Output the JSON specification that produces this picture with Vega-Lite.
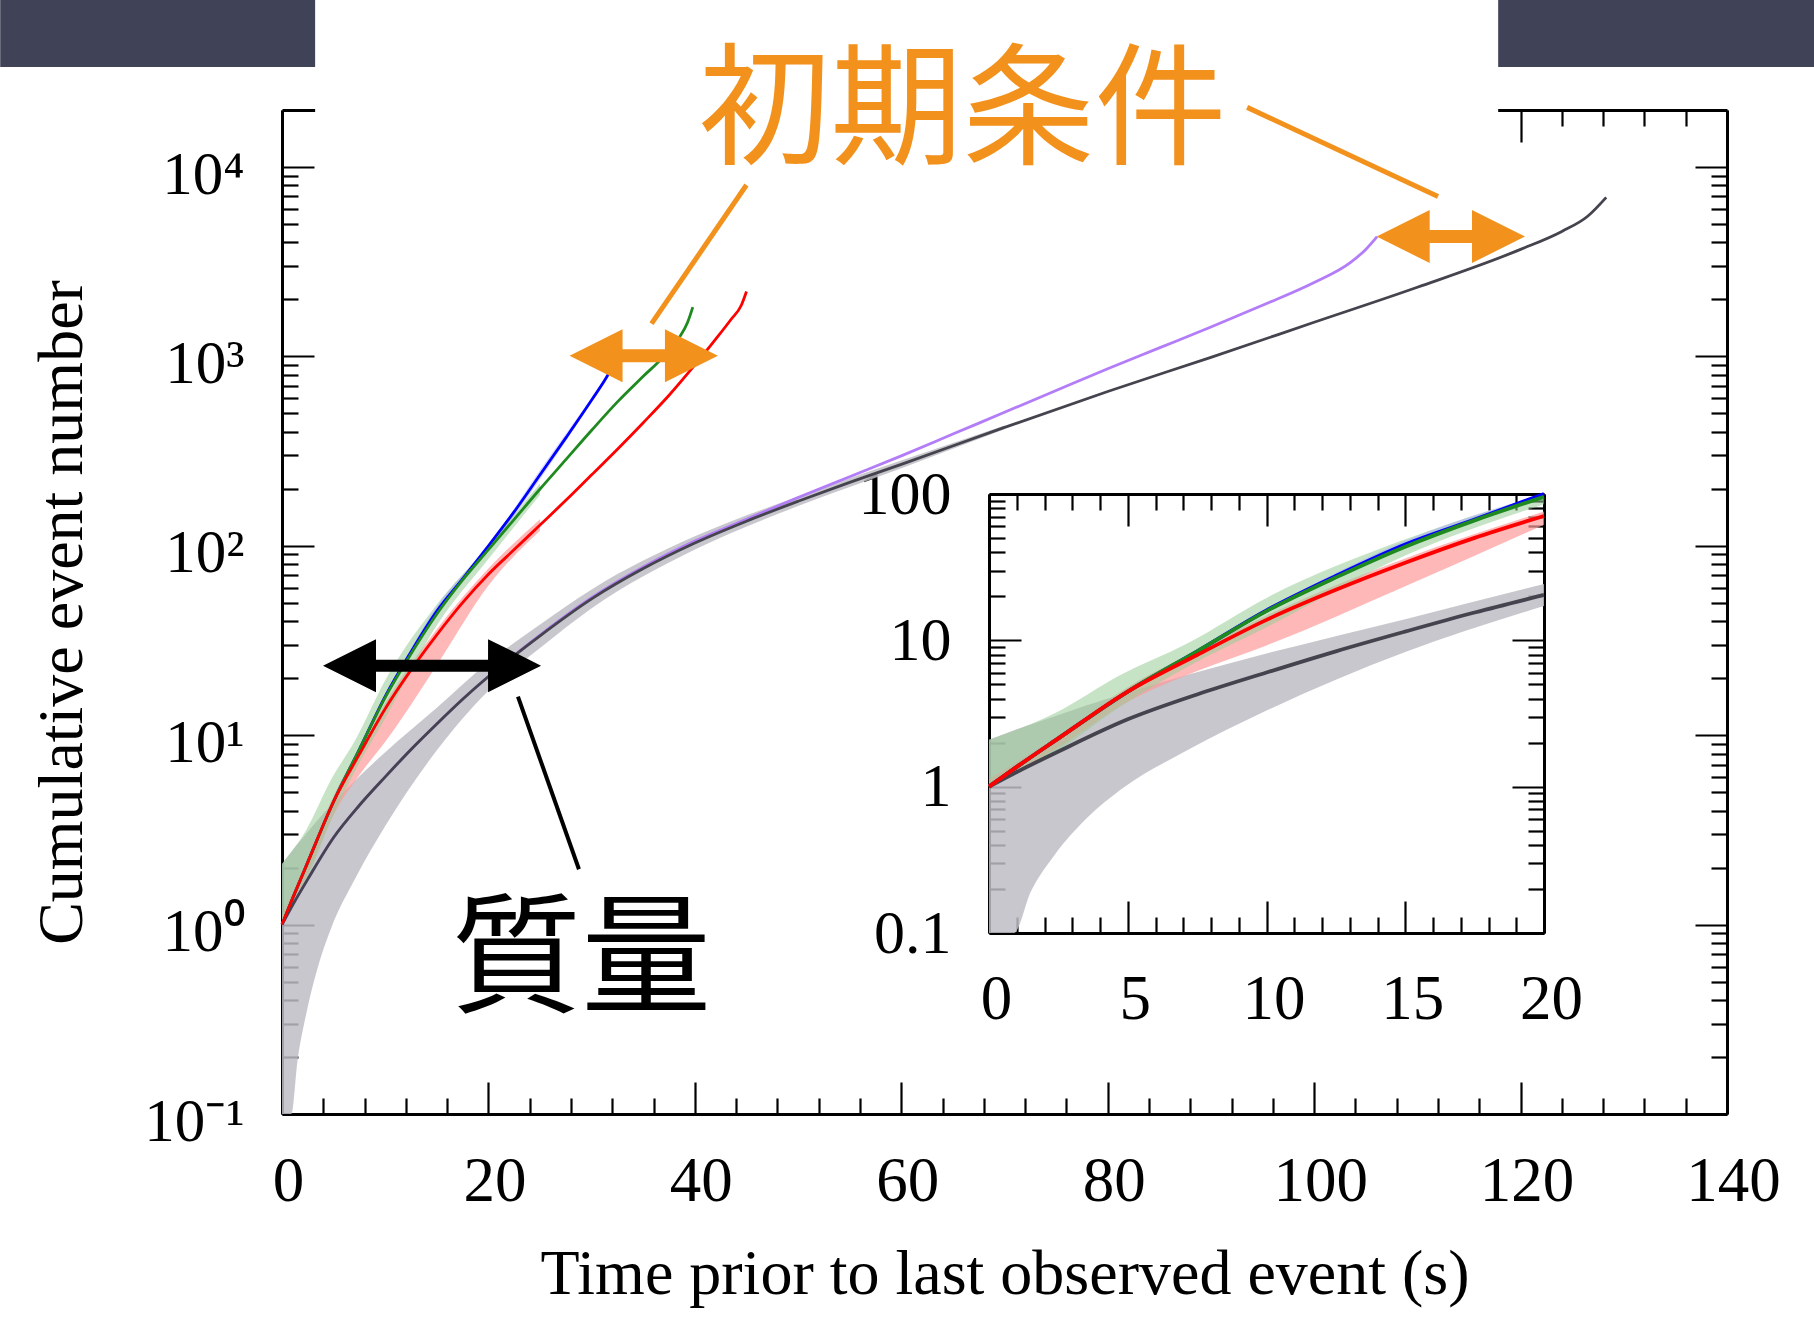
{
  "$schema": "https://vega.github.io/schema/vega-lite/v6.json",
  "width": 1445,
  "height": 1004,
  "autosize": "none",
  "padding": {"left": 282, "top": 110, "right": 87, "bottom": 218},
  "background": "white",
  "config": {
    "view": {"stroke": null},
    "axis": {
      "grid": false,
      "domainColor": "#000000",
      "domainWidth": 3,
      "tickColor": "#000000",
      "tickWidth": 2.2,
      "labelFont": "Liberation Serif",
      "labelColor": "#000000",
      "titleFont": "Liberation Serif",
      "titleColor": "#000000",
      "titleFontWeight": "normal",
      "labelFlush": false,
      "labelOverlap": false,
      "labelBound": false
    }
  },
  "datasets": {
    "lines": [
      {"series":"purple","t":0,"v":1},{"series":"purple","t":1,"v":1.259},{"series":"purple","t":2.5,"v":1.738},{"series":"purple","t":5,"v":2.884},{"series":"purple","t":7.5,"v":4.266},{"series":"purple","t":10,"v":6.026},{"series":"purple","t":12.5,"v":8.414},{"series":"purple","t":15,"v":11.48},{"series":"purple","t":17.5,"v":15.49},{"series":"purple","t":20,"v":20.42},{"series":"purple","t":25,"v":33.8},{"series":"purple","t":30,"v":53.2},{"series":"purple","t":35,"v":77.3},{"series":"purple","t":40,"v":105.9},{"series":"purple","t":45,"v":138},{"series":"purple","t":50,"v":179.9},{"series":"purple","t":55,"v":231.7},{"series":"purple","t":60,"v":298.5},{"series":"purple","t":65,"v":389},{"series":"purple","t":70,"v":507},{"series":"purple","t":75,"v":660.7},{"series":"purple","t":80,"v":861},{"series":"purple","t":85,"v":1109},{"series":"purple","t":90,"v":1429},{"series":"purple","t":95,"v":1862},{"series":"purple","t":100,"v":2455},{"series":"purple","t":103.5,"v":3126},{"series":"purple","t":105,"v":3673},{"series":"purple","t":106.1,"v":4295},
      {"series":"gray","t":0,"v":1},{"series":"gray","t":1,"v":1.259},{"series":"gray","t":2.5,"v":1.738},{"series":"gray","t":5,"v":2.884},{"series":"gray","t":7.5,"v":4.266},{"series":"gray","t":10,"v":6.026},{"series":"gray","t":12.5,"v":8.414},{"series":"gray","t":15,"v":11.48},{"series":"gray","t":17.5,"v":15.49},{"series":"gray","t":20,"v":20.42},{"series":"gray","t":25,"v":33.5},{"series":"gray","t":30,"v":52.48},{"series":"gray","t":35,"v":75.86},{"series":"gray","t":40,"v":103.5},{"series":"gray","t":45,"v":134.9},{"series":"gray","t":50,"v":171.8},{"series":"gray","t":55,"v":216.3},{"series":"gray","t":60,"v":269.2},{"series":"gray","t":70,"v":421.7},{"series":"gray","t":80,"v":653.1},{"series":"gray","t":90,"v":988.6},{"series":"gray","t":100,"v":1514},{"series":"gray","t":110,"v":2317},{"series":"gray","t":120,"v":3673},{"series":"gray","t":124,"v":4571},{"series":"gray","t":126.5,"v":5495},{"series":"gray","t":128.3,"v":6918},
      {"series":"blue","t":0,"v":1},{"series":"blue","t":1,"v":1.365},{"series":"blue","t":2.5,"v":2.138},{"series":"blue","t":5,"v":4.467},{"series":"blue","t":7.5,"v":8.414},{"series":"blue","t":10,"v":16.03},{"series":"blue","t":12.5,"v":27.54},{"series":"blue","t":15,"v":45.19},{"series":"blue","t":17.5,"v":66.83},{"series":"blue","t":20,"v":100},{"series":"blue","t":22.5,"v":151.4},{"series":"blue","t":25,"v":237.1},{"series":"blue","t":27.5,"v":371.5},{"series":"blue","t":30,"v":588.8},{"series":"blue","t":31.5,"v":785.2},{"series":"blue","t":32.3,"v":944.1},{"series":"blue","t":32.8,"v":1096},
      {"series":"green","t":0,"v":1},{"series":"green","t":1,"v":1.365},{"series":"green","t":2.5,"v":2.138},{"series":"green","t":5,"v":4.467},{"series":"green","t":7.5,"v":8.414},{"series":"green","t":10,"v":15.85},{"series":"green","t":12.5,"v":26.92},{"series":"green","t":15,"v":43.65},{"series":"green","t":17.5,"v":66.07},{"series":"green","t":20,"v":95.5},{"series":"green","t":22.5,"v":138},{"series":"green","t":25,"v":199.5},{"series":"green","t":27.5,"v":285.1},{"series":"green","t":30,"v":407.4},{"series":"green","t":32.5,"v":575.4},{"series":"green","t":35,"v":785.2},{"series":"green","t":37,"v":1000},{"series":"green","t":38.5,"v":1259},{"series":"green","t":39.3,"v":1514},{"series":"green","t":39.8,"v":1820},
      {"series":"red","t":0,"v":1},{"series":"red","t":1,"v":1.365},{"series":"red","t":2.5,"v":2.138},{"series":"red","t":5,"v":4.467},{"series":"red","t":7.5,"v":7.943},{"series":"red","t":10,"v":13.8},{"series":"red","t":12.5,"v":22.13},{"series":"red","t":15,"v":33.88},{"series":"red","t":17.5,"v":50.12},{"series":"red","t":20,"v":70.79},{"series":"red","t":22.5,"v":95.5},{"series":"red","t":25,"v":128.8},{"series":"red","t":27.5,"v":173.8},{"series":"red","t":30,"v":237.1},{"series":"red","t":32.5,"v":323.6},{"series":"red","t":35,"v":446.7},{"series":"red","t":37.5,"v":623.7},{"series":"red","t":40,"v":901.6},{"series":"red","t":42,"v":1230},{"series":"red","t":43.5,"v":1567},{"series":"red","t":44.5,"v":1862},{"series":"red","t":45,"v":2203}
    ],
    "bands": [
      {"series":"gray","t":0,"lo":0.1,"hi":2.089},{"series":"gray","t":0.9,"lo":0.1,"hi":2.427},{"series":"gray","t":1.5,"lo":0.1905,"hi":2.661},{"series":"gray","t":2.35,"lo":0.3388,"hi":3.02},{"series":"gray","t":3.5,"lo":0.6026,"hi":3.589},{"series":"gray","t":4.75,"lo":0.955,"hi":4.266},{"series":"gray","t":7.16,"lo":1.778,"hi":5.821},{"series":"gray","t":10,"lo":3.311,"hi":8.128},{"series":"gray","t":15,"lo":8.318,"hi":13.96},{"series":"gray","t":20,"lo":17.18,"hi":24.27},{"series":"gray","t":25,"lo":28.84,"hi":38.46},{"series":"gray","t":30,"lo":46.77,"hi":58.88},{"series":"gray","t":40,"lo":95.5,"hi":112.2},{"series":"gray","t":50,"lo":162.2,"hi":182},{"series":"gray","t":60,"lo":257,"hi":281.8},{"series":"gray","t":70,"lo":412.1,"hi":431.5},
      {"series":"red","t":0,"lo":1,"hi":1.122},{"series":"red","t":2.5,"lo":1.862,"hi":2.239},{"series":"red","t":5,"lo":3.802,"hi":4.786},{"series":"red","t":7.5,"lo":6.166,"hi":8.511},{"series":"red","t":10,"lo":9.226,"hi":14.79},{"series":"red","t":15,"lo":23.44,"hi":36.31},{"series":"red","t":20,"lo":61.66,"hi":75.86},{"series":"red","t":25,"lo":120.2,"hi":138},
      {"series":"green","t":0,"lo":1,"hi":2.089},{"series":"green","t":2.35,"lo":1.698,"hi":3.162},{"series":"green","t":4.75,"lo":3.548,"hi":5.821},{"series":"green","t":7.16,"lo":6.607,"hi":9.55},{"series":"green","t":10,"lo":12.3,"hi":19.5},{"series":"green","t":15,"lo":38.02,"hi":48.98},{"series":"green","t":20,"lo":85.11,"hi":100},{"series":"green","t":25,"lo":186.2,"hi":213.8},
      {"series":"blue","t":10,"lo":15.49,"hi":16.6},{"series":"blue","t":12.5,"lo":26.3,"hi":28.84},{"series":"blue","t":15,"lo":42.66,"hi":47.86},{"series":"blue","t":20,"lo":94.41,"hi":100},{"series":"blue","t":25,"lo":223.9,"hi":251.2},{"series":"blue","t":30,"lo":575.4,"hi":602.6}
    ],
    "boxes": [
      {"kind":"white","t1":3.21,"t2":117.83,"v1":12300,"v2":100000},
      {"kind":"bar","t1":-27.3,"t2":3.21,"v1":33780,"v2":100000},
      {"kind":"bar","t1":117.83,"t2":150,"v1":33780,"v2":100000}
    ],
    "shafts": [
      {"kind":"mass","t1":6.54,"t2":22.53,"v":23.3},
      {"kind":"init","t1":30.43,"t2":39.67,"v":1008},
      {"kind":"init","t1":108.63,"t2":117.86,"v":4295}
    ],
    "heads": [
      {"kind":"mass","dir":"L","t":6.54,"v":23.3},{"kind":"mass","dir":"R","t":22.53,"v":23.3},
      {"kind":"init","dir":"L","t":30.43,"v":1008},{"kind":"init","dir":"R","t":39.67,"v":1008},
      {"kind":"init","dir":"L","t":108.63,"v":4295},{"kind":"init","dir":"R","t":117.86,"v":4295}
    ],
    "leaders": [
      {"kind":"mass","t1":22.86,"v1":16.0,"t2":28.77,"v2":1.96},
      {"kind":"init","t1":35.8,"v1":1489,"t2":45.0,"v2":8035},
      {"kind":"init","t1":112.0,"v1":6980,"t2":93.51,"v2":20650}
    ],
    "notes": [
      {"kind":"init","text":"初期条件","t":65.93,"v":11740},
      {"kind":"mass","text":"質量","t":29.0,"v":0.389}
    ],
    "frame": [{"t":0,"v":1}]
  },
  "layer": [
    {
      "layer": [
        {
          "data": {"name": "boxes"},
          "transform": [{"filter": "datum.kind === 'white'"}],
          "mark": {"type": "rect", "color": "#ffffff"},
          "encoding": {
            "x": {"field": "t1", "type": "quantitative", "scale": {"domain": [0, 140], "nice": false, "zero": false}, "axis": null},
            "x2": {"field": "t2"},
            "y": {"field": "v1", "type": "quantitative", "scale": {"type": "log", "domain": [0.1, 20000], "nice": false}, "axis": null},
            "y2": {"field": "v2"}
          }
        },
        {
          "data": {"name": "boxes"},
          "transform": [{"filter": "datum.kind === 'bar'"}],
          "mark": {"type": "rect", "color": "#404257"},
          "encoding": {
            "x": {"field": "t1", "type": "quantitative", "scale": {"domain": [0, 140], "nice": false, "zero": false}, "axis": null},
            "x2": {"field": "t2"},
            "y": {"field": "v1", "type": "quantitative", "scale": {"type": "log", "domain": [0.1, 20000], "nice": false}, "axis": null},
            "y2": {"field": "v2"}
          }
        },
        {
          "data": {"name": "bands"},
          "transform": [{"filter": "datum.series === 'gray'"}],
          "mark": {"type": "area", "color": "#bdbdc4", "opacity": 0.85, "interpolate": "monotone"},
          "encoding": {
            "x": {"field": "t", "type": "quantitative", "scale": {"domain": [0, 140], "nice": false, "zero": false}, "axis": null},
            "y": {"field": "lo", "type": "quantitative", "scale": {"type": "log", "domain": [0.1, 20000], "nice": false}, "axis": null},
            "y2": {"field": "hi"}
          }
        },
        {
          "data": {"name": "bands"},
          "transform": [{"filter": "datum.series === 'red'"}],
          "mark": {"type": "area", "color": "#ff9a9a", "opacity": 0.7, "interpolate": "monotone"},
          "encoding": {
            "x": {"field": "t", "type": "quantitative", "scale": {"domain": [0, 140], "nice": false, "zero": false}, "axis": null},
            "y": {"field": "lo", "type": "quantitative", "scale": {"type": "log", "domain": [0.1, 20000], "nice": false}, "axis": null},
            "y2": {"field": "hi"}
          }
        },
        {
          "data": {"name": "bands"},
          "transform": [{"filter": "datum.series === 'green'"}],
          "mark": {"type": "area", "color": "#98cc98", "opacity": 0.55, "interpolate": "monotone"},
          "encoding": {
            "x": {"field": "t", "type": "quantitative", "scale": {"domain": [0, 140], "nice": false, "zero": false}, "axis": null},
            "y": {"field": "lo", "type": "quantitative", "scale": {"type": "log", "domain": [0.1, 20000], "nice": false}, "axis": null},
            "y2": {"field": "hi"}
          }
        },
        {
          "data": {"name": "bands"},
          "transform": [{"filter": "datum.series === 'blue'"}],
          "mark": {"type": "area", "color": "#9b9bff", "opacity": 0.4, "interpolate": "monotone"},
          "encoding": {
            "x": {"field": "t", "type": "quantitative", "scale": {"domain": [0, 140], "nice": false, "zero": false}, "axis": null},
            "y": {"field": "lo", "type": "quantitative", "scale": {"type": "log", "domain": [0.1, 20000], "nice": false}, "axis": null},
            "y2": {"field": "hi"}
          }
        },
        {
          "data": {"name": "lines"},
          "transform": [{"filter": "datum.series === 'purple'"}],
          "mark": {"type": "line", "color": "#b37cf8", "strokeWidth": 2.8, "interpolate": "monotone"},
          "encoding": {
            "x": {"field": "t", "type": "quantitative", "scale": {"domain": [0, 140], "nice": false, "zero": false}, "axis": null},
            "y": {"field": "v", "type": "quantitative", "scale": {"type": "log", "domain": [0.1, 20000], "nice": false}, "axis": null}
          }
        },
        {
          "data": {"name": "lines"},
          "transform": [{"filter": "datum.series === 'gray'"}],
          "mark": {"type": "line", "color": "#45434e", "strokeWidth": 2.8, "interpolate": "monotone"},
          "encoding": {
            "x": {"field": "t", "type": "quantitative", "scale": {"domain": [0, 140], "nice": false, "zero": false}, "axis": null},
            "y": {"field": "v", "type": "quantitative", "scale": {"type": "log", "domain": [0.1, 20000], "nice": false}, "axis": null}
          }
        },
        {
          "data": {"name": "lines"},
          "transform": [{"filter": "datum.series === 'blue'"}],
          "mark": {"type": "line", "color": "#0000ff", "strokeWidth": 2.8, "interpolate": "monotone"},
          "encoding": {
            "x": {"field": "t", "type": "quantitative", "scale": {"domain": [0, 140], "nice": false, "zero": false}, "axis": null},
            "y": {"field": "v", "type": "quantitative", "scale": {"type": "log", "domain": [0.1, 20000], "nice": false}, "axis": null}
          }
        },
        {
          "data": {"name": "lines"},
          "transform": [{"filter": "datum.series === 'green'"}],
          "mark": {"type": "line", "color": "#1f8a1f", "strokeWidth": 2.8, "interpolate": "monotone"},
          "encoding": {
            "x": {"field": "t", "type": "quantitative", "scale": {"domain": [0, 140], "nice": false, "zero": false}, "axis": null},
            "y": {"field": "v", "type": "quantitative", "scale": {"type": "log", "domain": [0.1, 20000], "nice": false}, "axis": null}
          }
        },
        {
          "data": {"name": "lines"},
          "transform": [{"filter": "datum.series === 'red'"}],
          "mark": {"type": "line", "color": "#ff0000", "strokeWidth": 2.8, "interpolate": "monotone"},
          "encoding": {
            "x": {"field": "t", "type": "quantitative", "scale": {"domain": [0, 140], "nice": false, "zero": false}, "axis": null},
            "y": {"field": "v", "type": "quantitative", "scale": {"type": "log", "domain": [0.1, 20000], "nice": false}, "axis": null}
          }
        },
        {
          "data": {"name": "leaders"},
          "transform": [{"filter": "datum.kind === 'mass'"}],
          "mark": {"type": "rule", "color": "#000000", "strokeWidth": 4},
          "encoding": {
            "x": {"field": "t1", "type": "quantitative", "scale": {"domain": [0, 140], "nice": false, "zero": false}, "axis": null},
            "x2": {"field": "t2"},
            "y": {"field": "v1", "type": "quantitative", "scale": {"type": "log", "domain": [0.1, 20000], "nice": false}, "axis": null},
            "y2": {"field": "v2"}
          }
        },
        {
          "data": {"name": "leaders"},
          "transform": [{"filter": "datum.kind === 'init'"}],
          "mark": {"type": "rule", "color": "#f2921d", "strokeWidth": 5},
          "encoding": {
            "x": {"field": "t1", "type": "quantitative", "scale": {"domain": [0, 140], "nice": false, "zero": false}, "axis": null},
            "x2": {"field": "t2"},
            "y": {"field": "v1", "type": "quantitative", "scale": {"type": "log", "domain": [0.1, 20000], "nice": false}, "axis": null},
            "y2": {"field": "v2"}
          }
        },
        {
          "data": {"name": "shafts"},
          "transform": [{"filter": "datum.kind === 'mass'"}],
          "mark": {"type": "rule", "color": "#000000", "strokeWidth": 12},
          "encoding": {
            "x": {"field": "t1", "type": "quantitative", "scale": {"domain": [0, 140], "nice": false, "zero": false}, "axis": null},
            "x2": {"field": "t2"},
            "y": {"field": "v", "type": "quantitative", "scale": {"type": "log", "domain": [0.1, 20000], "nice": false}, "axis": null}
          }
        },
        {
          "data": {"name": "shafts"},
          "transform": [{"filter": "datum.kind === 'init'"}],
          "mark": {"type": "rule", "color": "#f2921d", "strokeWidth": 13},
          "encoding": {
            "x": {"field": "t1", "type": "quantitative", "scale": {"domain": [0, 140], "nice": false, "zero": false}, "axis": null},
            "x2": {"field": "t2"},
            "y": {"field": "v", "type": "quantitative", "scale": {"type": "log", "domain": [0.1, 20000], "nice": false}, "axis": null}
          }
        },
        {
          "data": {"name": "heads"},
          "transform": [{"filter": "datum.kind === 'mass'"}],
          "mark": {"type": "point", "filled": true, "size": 2809, "color": "#000000", "opacity": 1, "strokeWidth": 0},
          "encoding": {
            "x": {"field": "t", "type": "quantitative", "scale": {"domain": [0, 140], "nice": false, "zero": false}, "axis": null},
            "y": {"field": "v", "type": "quantitative", "scale": {"type": "log", "domain": [0.1, 20000], "nice": false}, "axis": null},
            "shape": {"field": "dir", "type": "nominal", "scale": {"domain": ["L", "R"], "range": ["M1,-1L-1,0L1,1Z", "M-1,-1L1,0L-1,1Z"]}, "legend": null}
          }
        },
        {
          "data": {"name": "heads"},
          "transform": [{"filter": "datum.kind === 'init'"}],
          "mark": {"type": "point", "filled": true, "size": 2809, "color": "#f2921d", "opacity": 1, "strokeWidth": 0},
          "encoding": {
            "x": {"field": "t", "type": "quantitative", "scale": {"domain": [0, 140], "nice": false, "zero": false}, "axis": null},
            "y": {"field": "v", "type": "quantitative", "scale": {"type": "log", "domain": [0.1, 20000], "nice": false}, "axis": null},
            "shape": {"field": "dir", "type": "nominal", "scale": {"domain": ["L", "R"], "range": ["M1,-1L-1,0L1,1Z", "M-1,-1L1,0L-1,1Z"]}, "legend": null}
          }
        },
        {
          "data": {"name": "notes"},
          "transform": [{"filter": "datum.kind === 'init'"}],
          "mark": {"type": "text", "font": "Noto Sans CJK JP", "fontSize": 132, "align": "center", "baseline": "alphabetic", "color": "#f2921d"},
          "encoding": {
            "x": {"field": "t", "type": "quantitative", "scale": {"domain": [0, 140], "nice": false, "zero": false}, "axis": null},
            "y": {"field": "v", "type": "quantitative", "scale": {"type": "log", "domain": [0.1, 20000], "nice": false}, "axis": null},
            "text": {"field": "text"}
          }
        },
        {
          "data": {"name": "notes"},
          "transform": [{"filter": "datum.kind === 'mass'"}],
          "mark": {"type": "text", "font": "Noto Sans CJK JP", "fontSize": 130, "align": "center", "baseline": "alphabetic", "color": "#000000"},
          "encoding": {
            "x": {"field": "t", "type": "quantitative", "scale": {"domain": [0, 140], "nice": false, "zero": false}, "axis": null},
            "y": {"field": "v", "type": "quantitative", "scale": {"type": "log", "domain": [0.1, 20000], "nice": false}, "axis": null},
            "text": {"field": "text"}
          }
        }
      ]
    },
    {
      "data": {"name": "frame"},
      "mark": {"type": "point", "opacity": 0},
      "encoding": {
        "x": {"field": "t", "type": "quantitative", "scale": {"domain": [0, 140], "nice": false, "zero": false},
          "axis": {"orient": "bottom", "values": [0,4,8,12,16,20,24,28,32,36,40,44,48,52,56,60,64,68,72,76,80,84,88,92,96,100,104,108,112,116,120,124,128,132,136,140],
            "labelExpr": "datum.value % 20 === 0 ? '' + datum.value : ''",
            "tickSize": {"condition": {"test": "datum.value % 20 === 0", "value": -32}, "value": -16},
            "labelPadding": 68, "labelFontSize": 63, "labelOffset": 6,
            "title": "Time prior to last observed event (s)", "titleFontSize": 64, "titlePadding": 13}},
        "y": {"field": "v", "type": "quantitative", "scale": {"type": "log", "domain": [0.1, 20000], "nice": false},
          "axis": {"orient": "left", "values": [0.1,0.2,0.3,0.4,0.5,0.6,0.7,0.8,0.9,1,2,3,4,5,6,7,8,9,10,20,30,40,50,60,70,80,90,100,200,300,400,500,600,700,800,900,1000,2000,3000,4000,5000,6000,7000,8000,9000,10000],
            "labelExpr": "datum.value == 0.1 ? '10⁻¹' : datum.value == 1 ? '10⁰' : datum.value == 10 ? '10¹' : datum.value == 100 ? '10²' : datum.value == 1000 ? '10³' : datum.value == 10000 ? '10⁴' : ''",
            "tickSize": {"condition": {"test": "indexof([0.1,1,10,100,1000,10000], datum.value) >= 0", "value": -32}, "value": -16},
            "labelPadding": 70, "labelFontSize": 61, "labelOffset": 8,
            "title": "Cumulative event number", "titleFontSize": 64, "titlePadding": 49}}
      }
    },
    {
      "data": {"name": "frame"},
      "mark": {"type": "point", "opacity": 0},
      "encoding": {
        "x": {"field": "t", "type": "quantitative", "scale": {"domain": [0, 140], "nice": false, "zero": false},
          "axis": {"orient": "top", "values": [0,4,8,12,16,20,24,28,32,36,40,44,48,52,56,60,64,68,72,76,80,84,88,92,96,100,104,108,112,116,120,124,128,132,136,140],
            "labels": false, "title": null,
            "tickSize": {"condition": {"test": "datum.value % 20 === 0", "value": -32}, "value": -16}}},
        "y": {"field": "v", "type": "quantitative", "scale": {"type": "log", "domain": [0.1, 20000], "nice": false},
          "axis": {"orient": "right", "values": [0.1,0.2,0.3,0.4,0.5,0.6,0.7,0.8,0.9,1,2,3,4,5,6,7,8,9,10,20,30,40,50,60,70,80,90,100,200,300,400,500,600,700,800,900,1000,2000,3000,4000,5000,6000,7000,8000,9000,10000],
            "labels": false, "title": null,
            "tickSize": {"condition": {"test": "indexof([0.1,1,10,100,1000,10000], datum.value) >= 0", "value": -32}, "value": -16}}}
      }
    },
    {
      "layer": [
        {
          "data": {"name": "bands"},
          "transform": [{"filter": "datum.series === 'gray' && datum.t <= 20"}],
          "mark": {"type": "area", "color": "#bdbdc4", "opacity": 0.85, "interpolate": "monotone"},
          "encoding": {
            "x": {"field": "t", "type": "quantitative", "scale": {"domain": [0, 20], "range": [707, 1262], "nice": false, "zero": false}, "axis": null},
            "y": {"field": "lo", "type": "quantitative", "scale": {"type": "log", "domain": [0.1, 100], "range": [823, 384], "nice": false}, "axis": null},
            "y2": {"field": "hi"}
          }
        },
        {
          "data": {"name": "bands"},
          "transform": [{"filter": "datum.series === 'red' && datum.t <= 20"}],
          "mark": {"type": "area", "color": "#ff9a9a", "opacity": 0.7, "interpolate": "monotone"},
          "encoding": {
            "x": {"field": "t", "type": "quantitative", "scale": {"domain": [0, 20], "range": [707, 1262], "nice": false, "zero": false}, "axis": null},
            "y": {"field": "lo", "type": "quantitative", "scale": {"type": "log", "domain": [0.1, 100], "range": [823, 384], "nice": false}, "axis": null},
            "y2": {"field": "hi"}
          }
        },
        {
          "data": {"name": "bands"},
          "transform": [{"filter": "datum.series === 'green' && datum.t <= 20"}],
          "mark": {"type": "area", "color": "#98cc98", "opacity": 0.55, "interpolate": "monotone"},
          "encoding": {
            "x": {"field": "t", "type": "quantitative", "scale": {"domain": [0, 20], "range": [707, 1262], "nice": false, "zero": false}, "axis": null},
            "y": {"field": "lo", "type": "quantitative", "scale": {"type": "log", "domain": [0.1, 100], "range": [823, 384], "nice": false}, "axis": null},
            "y2": {"field": "hi"}
          }
        },
        {
          "data": {"name": "bands"},
          "transform": [{"filter": "datum.series === 'blue' && datum.t <= 20"}],
          "mark": {"type": "area", "color": "#9b9bff", "opacity": 0.4, "interpolate": "monotone"},
          "encoding": {
            "x": {"field": "t", "type": "quantitative", "scale": {"domain": [0, 20], "range": [707, 1262], "nice": false, "zero": false}, "axis": null},
            "y": {"field": "lo", "type": "quantitative", "scale": {"type": "log", "domain": [0.1, 100], "range": [823, 384], "nice": false}, "axis": null},
            "y2": {"field": "hi"}
          }
        },
        {
          "data": {"name": "lines"},
          "transform": [{"filter": "datum.series === 'gray' && datum.t <= 20"}],
          "mark": {"type": "line", "color": "#45434e", "strokeWidth": 3.8, "interpolate": "monotone"},
          "encoding": {
            "x": {"field": "t", "type": "quantitative", "scale": {"domain": [0, 20], "range": [707, 1262], "nice": false, "zero": false}, "axis": null},
            "y": {"field": "v", "type": "quantitative", "scale": {"type": "log", "domain": [0.1, 100], "range": [823, 384], "nice": false}, "axis": null}
          }
        },
        {
          "data": {"name": "lines"},
          "transform": [{"filter": "datum.series === 'blue' && datum.t <= 20"}],
          "mark": {"type": "line", "color": "#0000ff", "strokeWidth": 3.8, "interpolate": "monotone"},
          "encoding": {
            "x": {"field": "t", "type": "quantitative", "scale": {"domain": [0, 20], "range": [707, 1262], "nice": false, "zero": false}, "axis": null},
            "y": {"field": "v", "type": "quantitative", "scale": {"type": "log", "domain": [0.1, 100], "range": [823, 384], "nice": false}, "axis": null}
          }
        },
        {
          "data": {"name": "lines"},
          "transform": [{"filter": "datum.series === 'green' && datum.t <= 20"}],
          "mark": {"type": "line", "color": "#1f8a1f", "strokeWidth": 3.8, "interpolate": "monotone"},
          "encoding": {
            "x": {"field": "t", "type": "quantitative", "scale": {"domain": [0, 20], "range": [707, 1262], "nice": false, "zero": false}, "axis": null},
            "y": {"field": "v", "type": "quantitative", "scale": {"type": "log", "domain": [0.1, 100], "range": [823, 384], "nice": false}, "axis": null}
          }
        },
        {
          "data": {"name": "lines"},
          "transform": [{"filter": "datum.series === 'red' && datum.t <= 20"}],
          "mark": {"type": "line", "color": "#ff0000", "strokeWidth": 3.8, "interpolate": "monotone"},
          "encoding": {
            "x": {"field": "t", "type": "quantitative", "scale": {"domain": [0, 20], "range": [707, 1262], "nice": false, "zero": false}, "axis": null},
            "y": {"field": "v", "type": "quantitative", "scale": {"type": "log", "domain": [0.1, 100], "range": [823, 384], "nice": false}, "axis": null}
          }
        }
      ]
    },
    {
      "data": {"name": "frame"},
      "mark": {"type": "point", "opacity": 0},
      "encoding": {
        "x": {"field": "t", "type": "quantitative", "scale": {"domain": [0, 20], "range": [707, 1262], "nice": false, "zero": false},
          "axis": {"orient": "bottom", "offset": -181, "values": [0,1,2,3,4,5,6,7,8,9,10,11,12,13,14,15,16,17,18,19,20],
            "labelExpr": "datum.value % 5 === 0 ? '' + datum.value : ''",
            "tickSize": {"condition": {"test": "datum.value % 5 === 0", "value": -32}, "value": -16},
            "labelPadding": 67, "labelFontSize": 63, "labelOffset": 7, "title": null}},
        "y": {"field": "v", "type": "quantitative", "scale": {"type": "log", "domain": [0.1, 100], "range": [823, 384], "nice": false},
          "axis": {"orient": "left", "offset": -707, "values": [0.1,0.2,0.3,0.4,0.5,0.6,0.7,0.8,0.9,1,2,3,4,5,6,7,8,9,10,20,30,40,50,60,70,80,90,100],
            "labelExpr": "datum.value == 0.1 ? '0.1' : datum.value == 1 ? '1' : datum.value == 10 ? '10' : datum.value == 100 ? '100' : ''",
            "tickSize": {"condition": {"test": "indexof([0.1,1,10,100], datum.value) >= 0", "value": -32}, "value": -16},
            "labelPadding": 70, "labelFontSize": 62, "title": null}}
      }
    },
    {
      "data": {"name": "frame"},
      "mark": {"type": "point", "opacity": 0},
      "encoding": {
        "x": {"field": "t", "type": "quantitative", "scale": {"domain": [0, 20], "range": [707, 1262], "nice": false, "zero": false},
          "axis": {"orient": "top", "offset": -384, "values": [0,1,2,3,4,5,6,7,8,9,10,11,12,13,14,15,16,17,18,19,20],
            "labels": false, "title": null,
            "tickSize": {"condition": {"test": "datum.value % 5 === 0", "value": -32}, "value": -16}}},
        "y": {"field": "v", "type": "quantitative", "scale": {"type": "log", "domain": [0.1, 100], "range": [823, 384], "nice": false},
          "axis": {"orient": "right", "offset": -183, "values": [0.1,0.2,0.3,0.4,0.5,0.6,0.7,0.8,0.9,1,2,3,4,5,6,7,8,9,10,20,30,40,50,60,70,80,90,100],
            "labels": false, "title": null,
            "tickSize": {"condition": {"test": "indexof([0.1,1,10,100], datum.value) >= 0", "value": -32}, "value": -16}}}
      }
    }
  ],
  "resolve": {"scale": {"x": "independent", "y": "independent"}}
}
